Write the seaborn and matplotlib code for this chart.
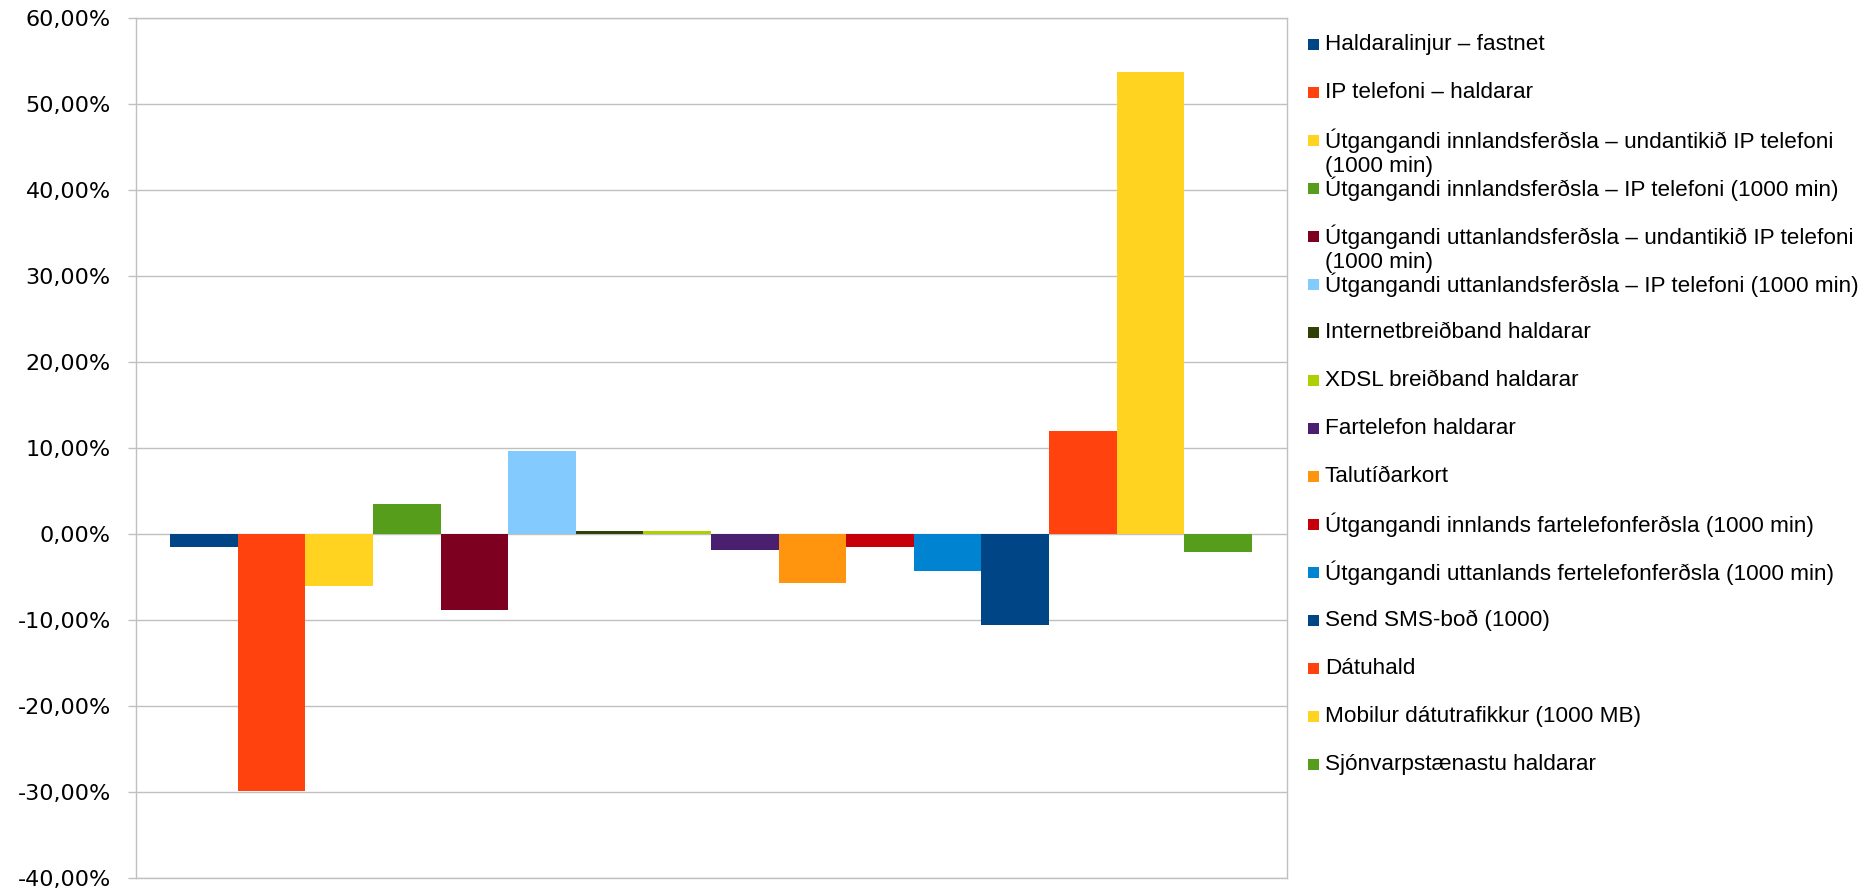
import numpy as np
import pandas as pd
import matplotlib
matplotlib.use("Agg")
import matplotlib.pyplot as plt
import seaborn as sns
from matplotlib.patches import Rectangle
from matplotlib.ticker import FuncFormatter, MultipleLocator

series = [
    "Haldaralinjur – fastnet",
    "IP telefoni – haldarar",
    "Útgangandi innlandsferðsla – undantikið IP telefoni (1000 min)",
    "Útgangandi innlandsferðsla – IP telefoni (1000 min)",
    "Útgangandi uttanlandsferðsla – undantikið IP telefoni (1000 min)",
    "Útgangandi uttanlandsferðsla – IP telefoni (1000 min)",
    "Internetbreiðband haldarar",
    "XDSL breiðband haldarar",
    "Fartelefon haldarar",
    "Talutíðarkort",
    "Útgangandi innlands fartelefonferðsla (1000 min)",
    "Útgangandi uttanlands fertelefonferðsla (1000 min)",
    "Send SMS-boð (1000)",
    "Dátuhald",
    "Mobilur dátutrafikkur (1000 MB)",
    "Sjónvarpstænastu haldarar",
]
legend_labels = [
    "Haldaralinjur – fastnet",
    "IP telefoni – haldarar",
    "Útgangandi innlandsferðsla – undantikið IP telefoni\n(1000 min)",
    "Útgangandi innlandsferðsla – IP telefoni (1000 min)",
    "Útgangandi uttanlandsferðsla – undantikið IP telefoni\n(1000 min)",
    "Útgangandi uttanlandsferðsla – IP telefoni (1000 min)",
    "Internetbreiðband haldarar",
    "XDSL breiðband haldarar",
    "Fartelefon haldarar",
    "Talutíðarkort",
    "Útgangandi innlands fartelefonferðsla (1000 min)",
    "Útgangandi uttanlands fertelefonferðsla (1000 min)",
    "Send SMS-boð (1000)",
    "Dátuhald",
    "Mobilur dátutrafikkur (1000 MB)",
    "Sjónvarpstænastu haldarar",
]
values = [-1.5, -29.8, -6.05, 3.57, -8.75, 9.73, 0.43, 0.43,
          -1.78, -5.7, -1.47, -4.31, -10.5, 12.0, 53.76, -2.0]
colors = ["#004586", "#ff420e", "#ffd320", "#579d1c", "#7e0021", "#83caff",
          "#314004", "#aecf00", "#4b1f6f", "#ff950e", "#c5000b", "#0084d1",
          "#004586", "#ff420e", "#ffd320", "#579d1c"]

W, H = 1874, 894
sns.set_theme(style="white")
plt.rcParams["font.family"] = ["DejaVu Sans"]

fig = plt.figure(figsize=(W / 100, H / 100), dpi=100)
fig.patch.set_facecolor("white")
top_px, bot_px, left_px, right_px = 18.3, 878.3, 135.5, 1286.5
ax = fig.add_axes([left_px / W, 1 - bot_px / H, (right_px - left_px) / W, (bot_px - top_px) / H])

df = pd.DataFrame({"grp": [""] * len(series), "serie": series, "value": values})
sns.barplot(data=df, x="grp", y="value", hue="serie", hue_order=series,
            palette=colors, saturation=1, width=0.94, dodge=True,
            errorbar=None, legend=False, ax=ax, linewidth=0)

ax.set_xlim(-0.5, 0.5)
ax.set_ylim(-40, 60)
ax.yaxis.set_major_locator(MultipleLocator(10))
ax.yaxis.set_major_formatter(FuncFormatter(lambda v, p: f"{v:.2f}".replace(".", ",") + "%"))
ax.set_xlabel("")
ax.set_ylabel("")
ax.set_xticks([])
gc = "#c0c0c0"
ax.yaxis.grid(True, color=gc, lw=1.0)
ax.set_axisbelow(True)
for s in ax.spines.values():
    s.set_color(gc)
    s.set_linewidth(1.0)
ax.tick_params(axis="y", left=True, length=5.8, width=1.0, color=gc,
               labelsize=16, pad=12, labelcolor="#000000")

# legend drawn at the right
x_mark = 1308
x_text = 1325
y0 = 44.5
step = 48
line_gap = 26
msz = 11.5
for i, (lab, c) in enumerate(zip(legend_labels, colors)):
    yc = y0 + i * step
    fig.patches.append(Rectangle((x_mark / W, 1 - (yc + msz / 2) / H), msz / W, msz / H,
                                 transform=fig.transFigure, facecolor=c,
                                 edgecolor="none"))
    for k, line in enumerate(lab.split("\n")):
        fig.text(x_text / W, 1 - (yc + k * line_gap) / H, line,
                 family=["Liberation Sans", "DejaVu Sans"], fontsize=16.2,
                 va="center", ha="left", color="#000000")

fig.savefig("out.png", dpi=100, facecolor="white")
